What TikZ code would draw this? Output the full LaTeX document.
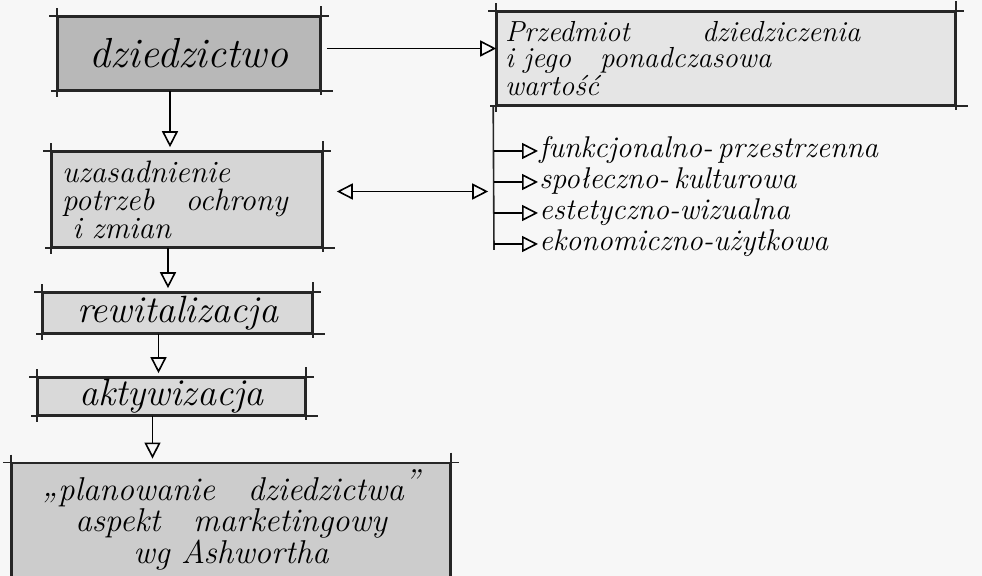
\documentclass[tikz,border=0pt]{standalone}
\usepackage{tikz}
\usetikzlibrary{calc}
\usetikzlibrary{arrows.meta}
\usetikzlibrary{positioning}
\tikzset{blok/.style={draw=black!85,line width=0.8pt,inner sep=3pt,font=\itshape}}
\tikzset{cecha/.style={anchor=west,inner sep=0.5pt,text height=10pt,text depth=3pt,font=\fontsize{15}{15}\selectfont\itshape}}
\tikzset{grot/.style={-{Triangle[open,length=8pt,width=8pt]},line width=0.8pt}}
\tikzset{grot2/.style={{Triangle[open,length=8pt,width=8pt]}-{Triangle[open,length=8pt,width=8pt]},line width=0.8pt}}
\tikzset{kreska/.style={draw=black!85,line width=0.8pt}}

\begin{document}
\begin{tikzpicture}[x=0.5pt,y=-0.5pt]
\fill[black!3] (0,0) rectangle (982,576);
\useasboundingbox (0,0) rectangle (982,576);
% lewa kolumna
\node[blok,fill=black!28,minimum width=131pt,minimum height=36.5pt,font=\fontsize{21}{22}\selectfont\itshape] (dz) at (189,53.5) {dziedzictwo};
\node[blok,fill=black!16,minimum width=135pt,minimum height=47.5pt,text width=125pt,align=left,font=\fontsize{15.5}{14}\selectfont\itshape] (uz) at (187,199.5) {uzasadnienie\\ potrzeb\quad ochrony\\ \ i zmian};
\node[blok,fill=black!15,minimum width=134.5pt,minimum height=20pt,inner sep=0pt,font=\fontsize{19}{19}\selectfont\itshape] (re) at (177.5,313) {rewitalizacja};
\node[blok,fill=black!15,minimum width=133.5pt,minimum height=18.5pt,inner sep=0pt,font=\fontsize{19}{19}\selectfont\itshape] (ak) at (171.5,396.5) {aktywizacja};
\node[blok,fill=black!20,minimum width=219pt,minimum height=50pt,align=center,font=\fontsize{16.5}{13.5}\selectfont\itshape] (pl) at (231,520) {\raisebox{2pt}{,,}planowanie\quad dziedzictwa\raisebox{4pt}{''}\\ aspekt\quad marketingowy\\ wg Ashwortha};
% prawa strona
\node[blok,fill=black!10,minimum width=229pt,minimum height=46.5pt,text width=221pt,align=left,font=\fontsize{14.5}{13}\selectfont\itshape] (pr) at (726,58.5) {Przedmiot\hspace{2.5em}dziedziczenia\\ i jego\quad ponadczasowa\\ wartość};
\node[cecha] (f1) at (538,151) {funkcjonalno-\,przestrzenna};
\node[cecha] (f2) at (538,182) {społeczno-\,kulturowa};
\node[cecha] (f3) at (538,213) {estetyczno-wizualna};
\node[cecha] (f4) at (538,244) {ekonomiczno-użytkowa};
\coordinate (kd) at (494,250);

% wystajace kreski
\foreach \b in {dz,pr,uz,re,ak,pl} {
  \draw[kreska] ([xshift=-4pt]\b.north west) -- ([xshift=4pt]\b.north east);
  \draw[kreska] ([xshift=-3pt]\b.south west) -- ([xshift=6pt]\b.south east);
  \draw[kreska] ([yshift=4pt]\b.north west) -- ([yshift=-3pt]\b.south west);
  \draw[kreska] ([yshift=5pt]\b.north east) -- ([yshift=-2pt]\b.south east);
}

\foreach \a/\b in {dz/uz,uz/re,re/ak,ak/pl}
  \draw[grot,shorten >=2pt] ([xshift=-9.5pt]\a.south) -- ([xshift=-9.5pt]\a.south |- \b.north);

\draw[grot] ([xshift=3pt,yshift=2.5pt]dz.east) -- ([yshift=2.5pt]dz.east -| pr.west);
\draw[grot2,shorten <=1pt,shorten >=4pt] ([xshift=6pt,yshift=4pt]uz.east) -- ([yshift=4pt]uz.east -| pr.south west);
\draw[kreska] ([xshift=-1.5pt]pr.south west) -- (kd);
\draw[grot] (kd |- f1.west) -- (f1.west);
\draw[grot] (kd |- f2.west) -- (f2.west);
\draw[grot] (kd |- f3.west) -- (f3.west);
\draw[grot] (kd |- f4.west) -- (f4.west);
\end{tikzpicture}
\end{document}
